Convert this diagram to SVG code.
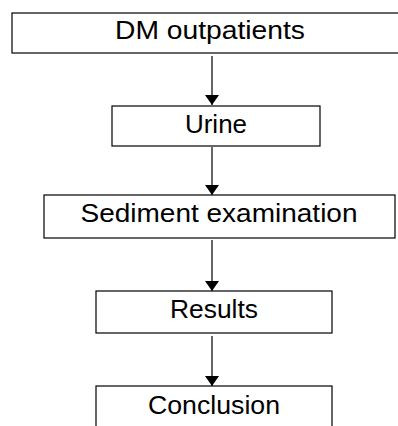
<svg xmlns="http://www.w3.org/2000/svg" width="398" height="426" viewBox="0 0 398 426">
<style>
.box{fill:#fff;stroke:#000;stroke-width:1.2}
.lbl{font-family:"Liberation Sans",Arial,sans-serif;font-size:25px;fill:#000;text-anchor:middle}
.conn{stroke:#000;stroke-width:1.2;fill:none;marker-end:url(#ah)}
</style>
<defs>
<marker id="ah" viewBox="0 0 10 14" refX="10" refY="7" markerWidth="10" markerHeight="14" markerUnits="userSpaceOnUse" orient="auto">
<path d="M0,0 L10,7 L0,14 Z" fill="#000"/>
</marker>
</defs>
<rect width="398" height="426" fill="#fff"/>
<g id="connectors">
<line class="conn" x1="212" y1="56" x2="212" y2="105"/>
<line class="conn" x1="212" y1="147" x2="212" y2="195"/>
<line class="conn" x1="212" y1="240" x2="212" y2="291"/>
<line class="conn" x1="212" y1="336" x2="212" y2="386"/>
</g>
<g id="n1">
<rect class="box" x="12" y="13" width="396" height="40"/>
<text class="lbl" x="210" y="39" textLength="190" lengthAdjust="spacingAndGlyphs">DM outpatients</text>
</g>
<g id="n2">
<rect class="box" x="112" y="106" width="208" height="40"/>
<text class="lbl" x="216" y="133" textLength="62" lengthAdjust="spacingAndGlyphs">Urine</text>
</g>
<g id="n3">
<rect class="box" x="44" y="195" width="351" height="43"/>
<text class="lbl" x="219" y="222" textLength="277" lengthAdjust="spacingAndGlyphs">Sediment examination</text>
</g>
<g id="n4">
<rect class="box" x="96" y="291" width="236" height="42"/>
<text class="lbl" x="214" y="318" textLength="88" lengthAdjust="spacingAndGlyphs">Results</text>
</g>
<g id="n5">
<rect class="box" x="96" y="386" width="236" height="60"/>
<text class="lbl" x="214" y="414" textLength="132" lengthAdjust="spacingAndGlyphs">Conclusion</text>
</g>
</svg>
